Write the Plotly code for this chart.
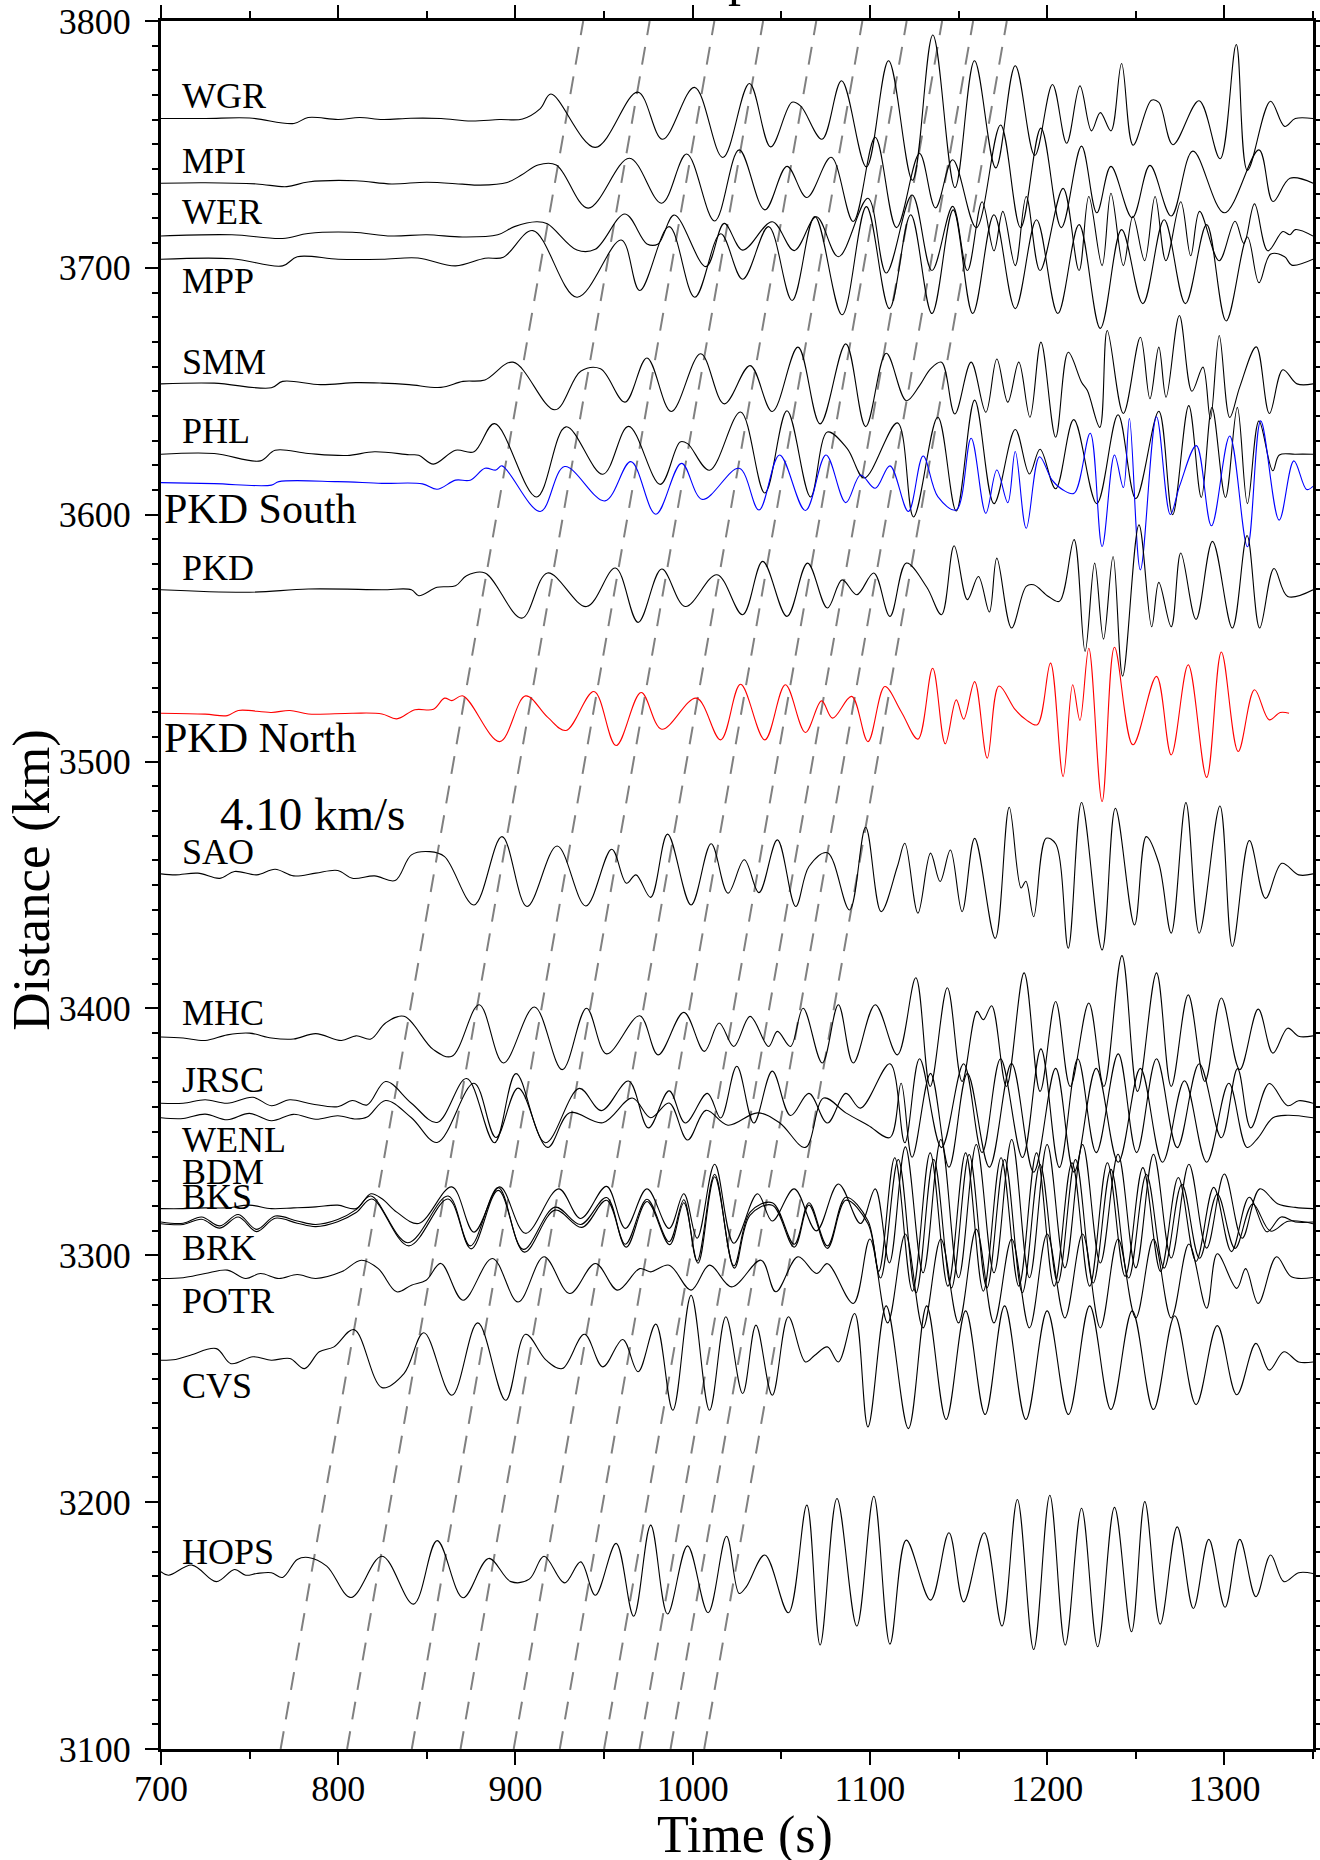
import plotly.graph_objects as go

# ---------------- DATA ----------------
stations = ["WGR", "MPI", "WER", "MPP", "SMM", "PHL", "PKD South", "PKD", "PKD North",
            "SAO", "MHC", "JRSC", "WENL", "BDM", "BKS", "BRK", "POTR", "CVS", "HOPS"]
distances_km = [3760.5, 3734.3, 3712.9, 3703.5, 3653.0, 3624.5, 3613.0, 3569.6, 3519.6,
                3454.5, 3388.4, 3361.6, 3355.7, 3318.9, 3313.5, 3312.8, 3290.6, 3257.5, 3171.8]

# reference group velocity and arrival offsets (s at 3100 km) of the dashed lines
group_velocity = 4.10
arrival_t0 = [767.5, 805.0, 841.5, 869.0, 899.0, 925.0, 950.0, 970.0, 987.5, 1006.5]

# waveform extrema: time (s) and amplitude (km) per station
wgr_t = [700, 725, 750, 775, 783, 800, 812, 825, 841, 858, 875, 891, 904, 914, 920, 945, 969, 983, 1001, 1017,
         1032, 1044, 1056, 1061, 1073, 1084, 1098, 1110.5, 1124, 1135.5, 1148, 1159, 1171, 1182, 1193, 1203,
         1211, 1218.5, 1225, 1230, 1236, 1242, 1248.5, 1258.8, 1263, 1271, 1285.7, 1297.6, 1306.7, 1313,
         1326, 1334, 1340, 1350]
wgr_a = [0, 0, 0.2, -2, 0.4, -0.4, 0.4, -0.4, 0.1, 0, -1, -0.4, -0.2, 4, 9.9, -11.7, 10.7, -8.4, 12.6, -15.8,
         14.2, -11.5, 6.6, 5, -8.4, 15.3, -19.6, 23.4, -25, 33.8, -28, 23.4, -20, 21.4, -15, 13.8,
         -10, 13.2, -5, 2.4, -5, 22.3, -10.8, 7.4, 6.5, -10.6, 7.2, -16.3, 30, -21,
         7, -3.2, 0, 0]

mpi_t = [700, 725, 754, 771, 783, 810, 830, 850, 870, 880, 895.3, 903.6, 912.7, 923, 941, 964.3, 982.5, 996.6,
         1012.4, 1026.2, 1040.7, 1053.2, 1064.4, 1078.1, 1090.6, 1103, 1115, 1128, 1137, 1146.7, 1160, 1173.7,
         1185, 1196.5, 1208, 1219.4, 1228, 1236, 1248, 1258, 1270, 1282.2, 1300, 1319.5, 1327.4, 1337, 1350]
mpi_a = [0, 0.2, -0.3, -1.4, 0.5, 1, -0.3, 0.4, -0.4, -0.8, 0.3, 3.4, 7.4, 7.4, -10.1, 10.1, -8.1, 11.8,
         -15.3, 13.5, -10.8, 6.8, -5.8, 10.5, -15.5, 18.6, -18, 12, -10, 9.5, -18, 23.6,
         -18, 22.3, -18, 15, -12, 6.8, -14, 7.2, -13.3, 13, -12, 13.5, -7.4, 2, 0]

wer_t = [700, 740, 768.6, 783, 808, 830, 850, 870, 890, 899.4, 911.9, 918, 934.7, 945, 961.8, 974.2, 980.5,
         989.6, 1007.5, 1017.8, 1028.2, 1044.9, 1057.3, 1069.8, 1082.2, 1098.9, 1109.2, 1123.8, 1135, 1146.7,
         1155, 1163.3, 1170, 1175, 1182, 1188.2, 1196, 1209, 1218, 1223.5, 1231, 1236, 1243, 1248.4, 1255,
         1260.9, 1267, 1275.4, 1281, 1286, 1297, 1306, 1311, 1317, 1324.5, 1333, 1337, 1340, 1350]
wer_a = [0, 0.5, -1, 1, 1.5, 0, 0.5, -0.4, 0.5, 3.8, 5.8, 5, -5.7, -5.4, 8.9, -3.2, -3.2,
         8.5, -12.4, 5.1, -5.7, 5.8, -5.9, 7.8, -8.4, 15.3, -15, 16.6, -14, 12,
         -14, 13.9, -6, 10, -12, 16, -14, 19.3, -14, 16, -12, 17.3, -12, 8, -10,
         16, -10, 13.9, -8, 10, -10, 6, -3, 13, -6, 1.8, 0.5, 2.6, 0]

mpp_t = [700, 740, 768.6, 776.9, 800, 824.7, 845, 866.2, 882.8, 893.2, 909.8, 934.7, 959.7, 970.1, 986.7,
         1001.2, 1015.8, 1028.2, 1042.8, 1056.1, 1068.9, 1084.3, 1098, 1111, 1123, 1135, 1147, 1158, 1170,
         1182, 1194, 1206, 1218, 1230, 1242, 1254, 1266, 1278, 1290, 1301, 1313, 1319.5, 1326, 1334, 1338, 1350]
mpp_a = [0, 0.2, -2.7, 1, 0, 0, 0.5, -2.7, 0.4, 0.8, 11.6, -15.4, 7.8, -12.7, 13.2,
         -15.4, 10.3, -8.1, 13.2, -16.7, 17.3, -22.5, 21.3, -20, 18, -22, 20, -22, 18,
         -20, 16, -22, 14, -28, 12, -18, 16, -18, 14, -25, 9, -9.5, 2, 1, -2.4, 0]

smm_t = [700, 730, 762.3, 768.6, 790, 810, 824.7, 840, 857.9, 870.4, 882.8, 898.6, 922.3, 936.8, 948, 961.8,
         974.2, 987.9, 1004.5, 1017.8, 1032.4, 1044.9, 1059.4, 1071.9, 1086.4, 1097.6, 1109.2, 1120.5, 1128,
         1134.2, 1140.4, 1147.9, 1157.1, 1165.4, 1171.6, 1177.8, 1184, 1190.3, 1196.5, 1204.8, 1211.9, 1219.4,
         1222.7, 1229.7, 1233.9, 1243, 1252.6, 1258, 1263, 1267.1, 1274.6, 1281.7, 1287.9, 1292.1, 1297.1,
         1303, 1308.7, 1318, 1325.4, 1333, 1341, 1350]
smm_a = [0, 0.3, -1.6, 1, -0.3, 0.5, 0.3, -0.3, -1.4, 1, 1.6, 8.8, -10.5, 5.1, 6.1, -7.4,
         10.5, -11.2, 12.2, -8.1, 7.4, -11.2, 14.9, -16.2, 16.2, -17.3, 12.4, -6.8, -0.7,
         6.1, 8.8, -12.2, 8.8, -11.5, 10.1, -7.4, 8.8, -13.5, 16.9, -21.6, 12.8, 0.7,
         -2.7, -17.6, 21.6, -12, 18.9, -6, 14.9, -5.4, 27.7, -3, 6.8, -14.2, 19.6,
         -13.6, -1.2, 15, -12, 5.7, 0, 0]

phl_t = [700, 730, 756.1, 764.4, 783.1, 805, 820.5, 840, 845.4, 853.7, 866.2, 876.6, 888.2, 911.9, 928.5,
         949.3, 963.8, 981.7, 992.9, 997.1, 1009.5, 1027, 1040.7, 1053.2, 1066.5, 1076, 1087.2, 1096.8,
         1115.5, 1124.6, 1138.3, 1148.7, 1159.1, 1170, 1182, 1190, 1196, 1204.8, 1215, 1228, 1240, 1250,
         1263, 1270.8, 1279.9, 1287, 1293, 1300.6, 1307.3, 1313, 1319.5, 1327.3, 1331, 1340, 1350]
phl_a = [0, 0.3, -2.7, 1.6, 0.3, -0.5, 1, -0.2, -0.4, -4, 1.6, 1, 12.4, -17.3, 11.1,
         -8.1, 11.3, -12.2, 5, 4.3, -6.5, 17.1, -15.7, 17.6, -17.3, 9, 2.3, -9.6,
         12.7, -25.4, 15, -23, 21.9, -20, 10, -8, 2, -14, 14, -20, 16, -18,
         17.4, -24.5, 19.7, -17.5, 19, -17.5, 19, -20, 13.5, -6.7, -0.3, 0, 0]

pkds_t = [700, 730, 762.3, 766.5, 799.7, 824.7, 847.5, 855.8, 866.2, 874.5, 882.8, 889, 892.4, 914, 927.7,
          950.5, 965.1, 979.2, 993.7, 1005.4, 1026.2, 1037.4, 1049, 1063.6, 1075.2, 1086.4, 1094.7, 1103,
          1111.3, 1121.7, 1130, 1138.3, 1148.7, 1157.1, 1165.4, 1171.6, 1177.8, 1182, 1188.2, 1195.7, 1202.8,
          1209, 1215.2, 1224.3, 1231, 1238, 1243, 1246.4, 1252.6, 1261.7, 1269.5, 1274.8, 1284.2, 1292.7,
          1303, 1313, 1320.5, 1330.9, 1339.2, 1346.4, 1350]
pkds_a = [0, -0.4, -1, 0.4, 0.4, -0.3, -0.5, -2.7, 1, 1, 5.8, 5.1, 6.8, -11.7, 6.5,
          -7.4, 8.5, -12.8, 7.8, -6.8, 5.8, -11.1, 11.2, -11.3, 11.2, -8.1, 3.1, -2.3,
          6.8, -11.7, 10.8, -5.7, -11.1, 18, -12.4, 5.1, -8.1, 12.6, -18.5, 10.5, 1,
          -3, -4.3, 20, -25.9, 11.2, -2, 26, -35.4, 26.7, -12.9, -1.2, 15, -17.5,
          18.9, -26, 25, -15.2, 8.8, -2.8, -1.5]

pkd_t = [700, 749.9, 783.1, 824.7, 841.3, 845.4, 855.8, 866.2, 872.4, 882.8, 903.6, 918.1, 940.1, 956.4,
         969.2, 982.5, 995.8, 1013.7, 1028.2, 1039.5, 1053.2, 1064.8, 1076, 1084.3, 1092.6, 1102.2, 1111.3,
         1120.5, 1132.1, 1140.4, 1147.5, 1155, 1161.2, 1167.4, 1171.6, 1179.9, 1188.2, 1192.4, 1200.7, 1206.9,
         1215.2, 1221.4, 1226.8, 1231.8, 1237.2, 1242.6, 1251.8, 1259, 1263, 1270, 1275.4, 1284, 1293.3,
         1304.5, 1312.8, 1319.9, 1328, 1335.7, 1350]
pkd_a = [0, -1, 0.3, 0, 0, -2.4, 1, 1.6, 5.7, 6.8, -11.5, 6.8, -6.8, 8.8,
         -13.2, 8.4, -6.8, 6.1, -10.1, 11.5, -10.8, 10.8, -7.4, 4, -2, 6.8, -10.8,
         10.8, 1, -10.1, 17.8, -4, 5.4, -9, 12.8, -15.5, 1.4, 2, -2.7, -4.7,
         20.3, -25, 10.8, -20, 13.5, -35, 26.3, -15, 3, -15, 14.9, -12, 19.6,
         -15.5, 22, -15.5, 8.6, -2.7, 0]

pkdn_t = [700, 724.9, 737.4, 743.6, 762.3, 772.7, 783.1, 808, 824.7, 833, 843.3, 853.7, 860, 864.1, 870.4,
          891.1, 905.7, 918.1, 928.5, 944.3, 956.8, 970.9, 982.5, 1002.1, 1015.8, 1027, 1040.7, 1052.3,
          1063.6, 1072.7, 1078.9, 1089.7, 1098.9, 1108.4, 1117.6, 1127.1, 1135.4, 1142.5, 1148.7, 1152.9,
          1159.1, 1166.2, 1172.8, 1182, 1188.2, 1194.4, 1201.9, 1209, 1214.4, 1218.5, 1223.5, 1231, 1238,
          1248.4, 1261.7, 1270, 1279.6, 1290, 1298.3, 1307.8, 1317, 1325.3, 1331.5, 1336.5]
pkdn_a = [0, -0.4, -1, 1.1, 0.3, 1.1, -0.3, 0, -0.3, -2.3, 1.4, 1.6, 6.1, 5.1, 7,
          -11.5, 7, -1.6, -7, 8.8, -13.1, 8.4, -6.5, 6.1, -10.8, 11.7, -10.8, 11.5,
          -7.8, 5, -2, 6.8, -11.5, 10.8, 0.7, -10.5, 18.2, -12.4, 5.4, -2.4,
          12.8, -18.2, 11, 1.4, -2.7, -4.7, 20.3, -25.7, 11.5, -2.9, 26.3, -35.8, 26.7,
          -12.8, 14.9, -16.9, 19.6, -26, 24.8, -15.5, 9.5, -2.7, 0.3, 0]

sao_t = [700, 708.3, 720.8, 733.2, 741.5, 754, 764.4, 774.8, 787.3, 799.7, 808, 820.5, 832.1, 841.3, 851.7,
         860, 876.6, 892.4, 906.5, 923.5, 939.7, 954.3, 962.6, 968, 976.3, 985.8, 999.1, 1010.4, 1019.9,
         1029.1, 1037.4, 1047.8, 1058.1, 1065.6, 1076, 1088.5, 1097.6, 1106.3, 1115.5, 1119.7, 1127.1, 1134.2,
         1139.6, 1145.4, 1152, 1159.1, 1170.7, 1178.6, 1185.3, 1188, 1192.4, 1199.4, 1204.8, 1211.9, 1219.4,
         1231, 1238.5, 1249.3, 1255.9, 1263, 1270, 1278.3, 1285.8, 1297.5, 1304.5, 1314.1, 1323.2, 1332.4,
         1341.9, 1350]
sao_a = [0, -0.4, 0.3, -1.8, 1, -0.4, 1.9, -0.8, 0.3, 1.4, -1.8, -0.8, -2.7, 7.7, 9,
         7, -12.6, 15.1, -13.2, 11.3, -13, 10, -3.8, -0.4, -9.5, 16.1, -12.6, 12.2, -7.8,
         5.7, -7.6, 13.8, -13.2, 3, 8.6, -14.6, 18.9, -15.3, 3, 12.4, -15.9, 8.4,
         -3.1, 9.7, -15.3, 14.4, -26.1, 27, -5.7, -3, -17.3, 14.4, 12.2, -30.1, 28.9,
         -30.8, 26.6, -20.7, 15.1, 4.3, -24, 28.9, -24, 27.5, -29.4, 13.5, -9.9, 4.3,
         -0.4, 0]

mhc_t = [700, 712.5, 724.9, 737.4, 749.9, 762.3, 774.8, 787.3, 801.8, 810.1, 818.4, 826.7, 837.1, 853.7,
         864.1, 879.5, 893.2, 910.7, 926.4, 940.1, 951.4, 970.1, 980.5, 995, 1006.6, 1014.9, 1023.2, 1032.4,
         1042.8, 1047.8, 1055.2, 1062.3, 1073.1, 1082.2, 1090.6, 1103, 1115.5, 1125.9, 1134, 1143.7, 1152,
         1160.4, 1164, 1168.7, 1177, 1187, 1196, 1204.8, 1213, 1223.5, 1232, 1242.2, 1251, 1261.7, 1270,
         1279.6, 1289, 1298.3, 1308.7, 1319.1, 1327.4, 1335.7, 1341.9, 1350]
mhc_a = [0, -0.4, -1.4, 0.9, 1.6, -0.4, -0.8, 1.4, -1.4, 0.5, -0.8, 5.7, 8.4, -5.1,
         -7.8, 13.1, -10.5, 12.2, -13.2, 11.7, -6.8, 8.6, -7.2, 10, -5.8, 5.7, -3.8, 8.4,
         -3.8, 2.3, -3.8, 11.7, -10.5, 13.1, -10.5, 13.1, -7.2, 24, -20, 20, -18,
         10.4, 7, 12.7, -20, 26, -22, 14.4, -20, 13.8, -20, 33, -22, 26, -20,
         17.1, -18, 15.8, -13.2, 11.3, -6.5, 3.6, 0.3, 0.5]

jrsc_t = [700, 712.5, 724.9, 737.4, 751.9, 762.3, 772.7, 785.2, 799.7, 808, 816.3, 826.7, 841.3, 855.8,
          872.4, 888.2, 900.3, 916.9, 936, 948.5, 963.8, 975, 986.7, 995.8, 1008.3, 1015.8, 1024.9, 1034.5,
          1044.9, 1055.2, 1065.6, 1076, 1086.4, 1094.7, 1111.3, 1119.7, 1128, 1140.4, 1152.9, 1163.3, 1173.7,
          1186.1, 1196.5, 1206.9, 1217.3, 1227.7, 1240.1, 1250.5, 1261.7, 1273.4, 1285.8, 1298.3, 1307.4,
          1314.9, 1325.3, 1335.7, 1341.9, 1350]
jrsc_a = [0, 0, 1.4, 0, 2.4, -1, 1.4, -0.3, -1.4, 1.1, -0.7, 8.8, 0, -7.8,
          10, -16, 12, -16, 6, -3, 9, -10, 5, -8, 4, -6, 15, -8,
          13, -5, 4, -8, 4, -2, 16, -16, 18, -18, 16, -20, 18,
          -22, 22, -26, 18, -20, 20, -20, 18, -18, 16, -14, 14,
          -10, 8, -1, 1, 0]

wenl_t = [700, 712.5, 724.9, 737.4, 749.9, 762.3, 774.8, 787.3, 799.7, 810, 816.3, 826.7, 841.3, 855.8,
          876.6, 889, 901.5, 918.1, 930.6, 949.3, 965.9, 976.3, 986.7, 997.1, 1007.5, 1019.9, 1036.6, 1049,
          1063.6, 1073.9, 1086.4, 1098.9, 1111.3, 1117.6, 1123.8, 1134.2, 1144.6, 1155, 1167.4, 1179.9, 1192.4,
          1204.8, 1215.2, 1227.7, 1240.1, 1252.6, 1265.1, 1277.5, 1290, 1302.5, 1312.8, 1319.1, 1327.4,
          1335.7, 1350]
wenl_a = [0, -0.3, 1.5, -0.8, 1.8, -1.2, 1.4, -0.6, 0.8, -0.5, 0.3, 7, 0, -10,
          14, -8, 12, -12, 2, -2, 8, 0, 6, -9, 3, -3, 2, -2,
          -12, 8, 2, -3, -8, 14, -16, 18, -20, 18, -20, 22, -22,
          20, -22, 20, -18, 20, -18, 15, -18, 14, -12, -8, 0,
          1, 0]

bdm_t = [700, 712.5, 724.9, 737.4, 749.9, 762.3, 774.8, 787.3, 799.7, 810.1, 818.4, 824.7, 833, 845.4, 864.1,
         876.6, 891.1, 905.7, 924.4, 936.8, 951.4, 962, 974.2, 986.7, 995, 1002.5, 1012.4, 1023.2, 1036.6,
         1044.9, 1057.3, 1069.8, 1082.2, 1094.7, 1103, 1111, 1120, 1130, 1140, 1150, 1160, 1170, 1180, 1190,
         1200, 1210, 1220, 1230, 1240, 1250, 1260, 1270, 1280, 1290, 1300, 1310, 1320, 1330, 1340, 1350]
bdm_a = [0, 0, 0.3, 0.3, 1.4, 0, 0.3, 0.7, 1.4, 0, 6, 4, -1.4, -6, 8.8,
         -9.5, 8.8, -10, 8, -4, 9, -8, 8, -8, 6, -12, 18, -14, 6,
         -5, 8, -9, 10, -6, 8, -22, 25, -26, 28, -28, 26, -26, 28, -28,
         26, -24, 26, -22, 22, -24, 22, -20, 18, -16, 14, -12, 8, 2, 0.5, 0]

bks_t = [700, 712.5, 722.9, 733.2, 743.6, 754, 764.4, 776.9, 787.3, 799.7, 810.1, 818.4, 839.2, 862, 874.5,
         890.3, 904.4, 922.3, 936.8, 951.4, 962, 974.2, 986.7, 995, 1002.5, 1012.4, 1023.2, 1032.4, 1044.9,
         1057.3, 1065.6, 1076, 1086.4, 1098.9, 1105, 1114, 1124, 1134, 1144, 1154, 1164, 1174, 1184, 1194,
         1204, 1214, 1224, 1234, 1244, 1254, 1264, 1274, 1284, 1294, 1304, 1314, 1324, 1332, 1340, 1350]
bks_a = [0, -0.5, 2, -1.6, 3, -3, 2.4, 0.4, -1, 1, 5, 10.5, -8.4, 10.5, -9.7,
         13.9, -11.1, 6, -1, 9.9, -9, 9.2, -8, 9, -15.8, 19.3, -17.8, 4, 7.8,
         -9, 7.8, -9.7, 10, 0.5, -20, 26, -28, 28, -26, 28, -28, 26, -26, 28,
         -26, 24, -26, 24, -22, 22, -20, 18, -16, 14, -12, 10, -4, 2, 0, 0]

brk_t = [700, 712.5, 722.9, 733.2, 743.6, 754, 764.4, 776.9, 787.3, 799.7, 810.1, 819, 839.8, 862, 875,
         890.3, 905, 922.3, 937.5, 951.4, 962.5, 974.2, 987, 995, 1003, 1012.4, 1023.5, 1032.4, 1044.9,
         1057.3, 1065.6, 1076, 1086.4, 1098.9, 1106, 1116, 1126, 1136, 1146, 1156, 1166, 1176, 1186, 1196,
         1206, 1216, 1226, 1236, 1246, 1256, 1266, 1276, 1286, 1296, 1306, 1316, 1326, 1336, 1350]
brk_a = [0, -0.3, 1.8, -1.8, 2.7, -3.2, 2.2, 0.2, -1.2, 0.8, 4.5, 10, -9, 10, -10.2,
         13.5, -11.5, 5.5, -1.5, 9.5, -9.5, 9, -8.5, 8.5, -16, 19, -18, 3.5, 7.5,
         -9.5, 7.5, -10, 9.5, 0, -22, 26, -28, 26, -26, 28, -26, 26, -28, 24,
         -24, 26, -24, 22, -22, 20, -18, 16, -14, 12, -10, 8, -3, 1, 0]

potr_t = [700, 712.5, 724.9, 737.4, 747.8, 756.1, 766.5, 776.9, 787.3, 801.8, 813, 822.6, 833, 841.3, 849.6,
          857.9, 870.4, 887, 901.5, 916.1, 930.6, 945.1, 957.6, 970.1, 976.3, 986.7, 999.1, 1009.5, 1022,
          1038.6, 1046.9, 1059.4, 1070, 1076, 1090.6, 1100, 1110, 1120, 1130, 1140, 1150, 1160, 1170, 1180,
          1190, 1200, 1210, 1220, 1230, 1240, 1250, 1260, 1270, 1280, 1290, 1296, 1307, 1312, 1319.1, 1329.4,
          1337.8, 1350]
potr_a = [0, 0.3, 2, 3.4, 0, 2, 0, 1.6, 0, 2.7, 7.4, 4, -5.4, -2.7, -0.7,
          6.1, -8.8, 8.1, -9.5, 8.8, -6.1, 6.1, -4.7, 4, 2.7, 5.4, -4.7, 5.4, -3.4,
          7.4, -5.4, 8.8, 2, 6, -10.1, 16, -18, 18, -20, 16, -18, 20, -18, 16,
          -20, 18, -16, 18, -20, 16, -16, 16, -16, 14, -12, 10, -4, 4, -10.1, 8.8,
          0.7, 0.4]

cvs_t = [700, 708.3, 716.6, 731.2, 739.5, 751.9, 762.3, 772.7, 781, 789.3, 797.6, 808.9, 824.7, 837.1, 848.3,
         864.1, 878.7, 894.5, 905.7, 917.3, 926.4, 938.9, 949.3, 960.5, 969.2, 979.2, 988.8, 999.1, 1009.5,
         1018.7, 1028.2, 1035.7, 1044.9, 1054, 1063.6, 1068.9, 1076, 1082.2, 1091.4, 1098.9, 1109.2, 1121.7,
         1132, 1143, 1154, 1165, 1176, 1188, 1200, 1212, 1224, 1236, 1248, 1260, 1272, 1284, 1296, 1307,
         1317.8, 1325.3, 1333.6, 1341.9, 1350]
cvs_a = [0, 0.3, 2, 4.7, -1.4, 1.4, 0, 0.7, -3.4, 3.4, 5.4, 12.4, -11.1, -5.4, 11.1,
         -14.2, 15.1, -16.2, 10.5, 0, -3.4, 10.5, -2.7, 8.4, -4.7, 14.6, -20.3, 26.3, -20.3,
         17.6, -13.5, 14.2, -14.2, 17.6, -0.7, 2, 5.4, -0.7, 18.9, -27, 22, -27.7,
         22, -24, 20, -22, 22, -24, 20, -22, 22, -20, 20, -20, 18, -18, 14, -14,
         6.8, -4, 3.4, -0.7, -0.7]

hops_t = [700, 704.2, 717.5, 731.2, 741.5, 747.8, 754, 762.3, 768.6, 776.9, 783.1, 793.5, 807.2, 824.7, 842.5,
          855.8, 870.4, 884.9, 897.4, 907.8, 916.1, 927.7, 936.8, 945.1, 956.8, 966.7, 976.3, 985.8, 997.1,
          1008.7, 1019.1, 1026.2, 1030.3, 1040.7, 1054, 1064.4, 1071.9, 1081.4, 1092.6, 1102.2, 1111.3, 1120.5,
          1134.2, 1144.6, 1152.9, 1164.5, 1174.5, 1183.2, 1192.4, 1201.5, 1210.2, 1219.4, 1228.5, 1238, 1247.6,
          1255.1, 1263.8, 1273.4, 1282.5, 1291.2, 1300.4, 1308.7, 1317.8, 1326.1, 1333.6, 1341.9, 1350]
hops_a = [0, -1.4, 2.7, -4, 0.9, -1.4, -0.7, -0.4, -2.3, 5, 5.8, 2.3, -10.4, 6.3, -13.1,
          12.6, -10.5, 5.4, -4, -3, 6.3, -4.5, 4, -9.5, 11.5, -18, 18.9, -17.1, 10.5,
          -16.6, 14.4, -8.8, -6, 6.8, -16.6, 27, -29.7, 29.7, -22, 30.6, -29.3, 12.8,
          -11.5, 15.8, -12.2, 15.8, -22, 29.3, -31.5, 31, -29.7, 25.7, -30.4, 26.1, -24.3,
          28.4, -21.2, 18.2, -14.9, 13.1, -14.4, 13.1, -10.1, 6.8, -4, -0.4, -0.7]

waveforms = {
    "WGR": (wgr_t, wgr_a), "MPI": (mpi_t, mpi_a), "WER": (wer_t, wer_a), "MPP": (mpp_t, mpp_a),
    "SMM": (smm_t, smm_a), "PHL": (phl_t, phl_a), "PKD South": (pkds_t, pkds_a), "PKD": (pkd_t, pkd_a),
    "PKD North": (pkdn_t, pkdn_a), "SAO": (sao_t, sao_a), "MHC": (mhc_t, mhc_a), "JRSC": (jrsc_t, jrsc_a),
    "WENL": (wenl_t, wenl_a), "BDM": (bdm_t, bdm_a), "BKS": (bks_t, bks_a), "BRK": (brk_t, brk_a),
    "POTR": (potr_t, potr_a), "CVS": (cvs_t, cvs_a), "HOPS": (hops_t, hops_a),
}

x_range = [700, 1350]
y_range = [3100, 3800]

# ---------------- STYLE / LAYOUT ----------------
SERIF = "Liberation Serif"
trace_colors = {"PKD South": "#0000ff", "PKD North": "#ff0000"}

# label placement (layout): text centre in km
label_y = {"WGR": 3769.7, "MPI": 3743.4, "WER": 3722.5, "MPP": 3694.6, "SMM": 3662.0, "PHL": 3634.0,
           "PKD South": 3602.4, "PKD": 3578.3, "PKD North": 3509.4, "SAO": 3463.4, "MHC": 3398.2,
           "JRSC": 3371.1, "WENL": 3346.8, "BDM": 3333.7, "BKS": 3323.6, "BRK": 3302.8, "POTR": 3281.3,
           "CVS": 3246.9, "HOPS": 3180.0}

fig = go.Figure()

# dashed group-velocity lines
for t0 in arrival_t0:
    fig.add_trace(go.Scatter(
        x=[t0, t0 + (y_range[1] - y_range[0]) / group_velocity],
        y=[y_range[0], y_range[1]],
        mode="lines", line=dict(color="#808080", width=2, dash="18px,12px"),
        hoverinfo="skip", showlegend=False))

# seismograms
for name, dist in zip(stations, distances_km):
    t, a = waveforms[name]
    fig.add_trace(go.Scatter(
        x=t, y=[dist + v for v in a], mode="lines",
        line=dict(color=trace_colors.get(name, "black"), width=1.1, shape="spline", smoothing=1.0),
        name=name, showlegend=False, hoverinfo="skip"))

annotations = []
for name in stations:
    big = name.startswith("PKD ")
    annotations.append(dict(
        x=700.6 if big else 710.7, y=label_y[name], xref="x", yref="y",
        text=name, showarrow=False, xanchor="left", yanchor="middle",
        font=dict(family=SERIF, size=42 if big else 36, color="black")))

annotations.append(dict(x=732, y=3478.7, xref="x", yref="y", text="4.10 km/s", showarrow=False,
                        xanchor="left", yanchor="middle", font=dict(family=SERIF, size=47, color="black")))
annotations.append(dict(x=0.507, y=-0.050, xref="paper", yref="paper", text="Time (s)", showarrow=False,
                        xanchor="center", yanchor="middle", font=dict(family=SERIF, size=52, color="black")))
annotations.append(dict(x=-0.112, y=0.503, xref="paper", yref="paper", text="Distance (km)",
                        showarrow=False, textangle=-90, xanchor="center", yanchor="middle",
                        font=dict(family=SERIF, size=53, color="black")))
annotations.append(dict(x=0.5035, y=1.0075, xref="paper", yref="paper", text="p", showarrow=False,
                        xanchor="center", yanchor="bottom", font=dict(family=SERIF, size=52, color="black")))

axis_common = dict(showline=True, linecolor="black", linewidth=3, mirror="ticks", ticks="outside",
                   tickcolor="black", tickwidth=1.5, ticklen=13, showgrid=False, zeroline=False,
                   automargin=False,
                   tickfont=dict(family=SERIF, size=36, color="black"))

fig.update_layout(
    width=1320, height=1860,
    margin=dict(l=161, r=7, t=21, b=111, autoexpand=False),
    paper_bgcolor="white", plot_bgcolor="white",
    font=dict(family=SERIF, color="black"),
    xaxis=dict(range=x_range, dtick=100, tick0=700, ticklabelstandoff=-7,
               minor=dict(dtick=50, ticks="outside", ticklen=7, tickcolor="black", tickwidth=1.5),
               **axis_common),
    yaxis=dict(range=y_range, dtick=100, tick0=3100, ticklabelstandoff=7,
               minor=dict(dtick=10, ticks="outside", ticklen=6, tickcolor="black", tickwidth=1.5),
               **axis_common),
    annotations=annotations,
)

fig.write_html("out.html",
               config={"displayModeBar": False},
               post_script="document.body.style.margin='0';document.body.style.overflow='hidden';")
